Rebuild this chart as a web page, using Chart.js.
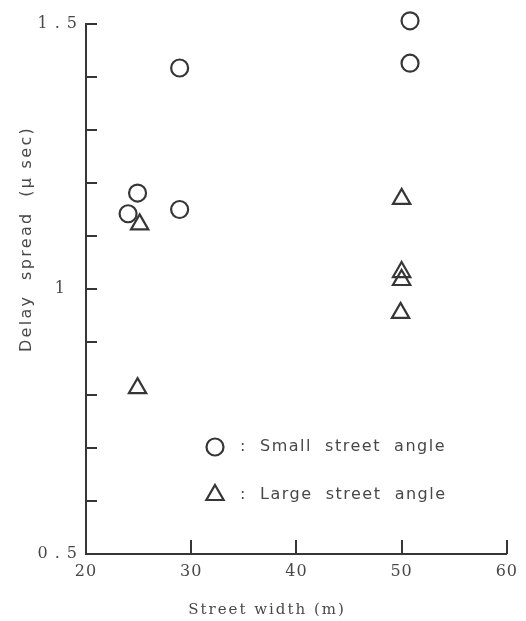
<!DOCTYPE html>
<html>
<head>
<meta charset="utf-8">
<script src="https://cdn.jsdelivr.net/npm/chart.js@4/dist/chart.umd.min.js"></script>
<style>
  html, body { margin: 0; padding: 0; background: #fff; }
  #wrap { width: 526px; height: 621px; }
</style>
</head>
<body>
<div id="wrap"><canvas id="c" width="526" height="621"></canvas></div>
<script>
// Delay spread versus street width, two street-angle groups
const smallAngleWidth = [24.0, 24.9, 28.9, 28.9, 50.8, 50.8];
const smallAngleDelay = [1.142, 1.181, 1.150, 1.417, 1.506, 1.426];
const largeAngleWidth = [25.1, 24.9, 50.0, 50.0, 50.0, 49.9];
const largeAngleDelay = [1.122, 0.813, 1.170, 1.032, 1.017, 0.955];

const xTickValues = [20, 30, 40, 50, 60];
const yTickLabels = { '0.5': '0 . 5', '1': '1  ', '1.5': '1 . 5' };
const seriesNames = ['Small street angle', 'Large street angle'];
const xTitle = 'Street width (m)';
const yTitle = 'Delay  spread  (μ sec)';

const INK = '#363636';
const TEXT = '#484848';
const SERIF = 'DejaVu Serif';
const SANS = 'DejaVu Sans';

function toPoints(xs, ys) { return xs.map((x, i) => ({ x: x, y: ys[i] })); }

// slightly open letter spacing for the tick labels
const spacingPlugin = {
  id: 'spacing',
  beforeLayout(chart) { chart.ctx.letterSpacing = '1px'; },
  beforeDraw(chart) { chart.ctx.letterSpacing = '1px'; }
};

// inward tick marks on the left and bottom axes
const inwardTicks = {
  id: 'inwardTicks',
  afterDraw(chart) {
    const { ctx, chartArea: a, scales: { x, y } } = chart;
    ctx.save();
    ctx.strokeStyle = INK;
    ctx.lineWidth = 2;
    ctx.beginPath();
    y.ticks.forEach(t => {
      const py = Math.round(y.getPixelForValue(t.value));
      ctx.moveTo(a.left, py); ctx.lineTo(a.left + 11, py);
    });
    x.ticks.forEach(t => {
      if (t.value === x.min) return;
      const px = Math.round(x.getPixelForValue(t.value));
      ctx.moveTo(px, a.bottom); ctx.lineTo(px, a.bottom - 14);
    });
    ctx.stroke();
    ctx.restore();
  }
};

// axis titles
const axisTitles = {
  id: 'axisTitles',
  afterDraw(chart) {
    const { ctx, chartArea: a } = chart;
    ctx.save();
    ctx.fillStyle = TEXT;
    ctx.textAlign = 'center';
    ctx.textBaseline = 'middle';
    ctx.letterSpacing = '2px';
    ctx.font = '15px "' + SERIF + '"';
    ctx.fillText(xTitle, a.left + 181, a.bottom + 56);
    ctx.translate(27, a.top + 215);
    ctx.rotate(-Math.PI / 2);
    ctx.letterSpacing = '2.3px';
    ctx.font = '16px "' + SANS + '"';
    ctx.fillText(yTitle, 0, 0);
    ctx.restore();
  }
};

// key drawn inside the plot area, lower middle
const keyPlugin = {
  id: 'key',
  afterDraw(chart) {
    const { ctx, chartArea: a } = chart;
    chart.data.datasets.forEach((ds, i) => {
      const cx = a.left + 129;
      const cy = a.top + 423 + i * 48;
      ctx.save();
      ctx.strokeStyle = ds.borderColor;
      ctx.fillStyle = 'rgba(0,0,0,0)';
      ctx.lineWidth = ds.borderWidth;
      Chart.helpers.drawPoint(ctx, {
        pointStyle: ds.pointStyle,
        radius: ds.pointRadius,
        borderWidth: ds.borderWidth
      }, cx, cy);
      ctx.letterSpacing = '1.5px';
      ctx.font = '16px "' + SANS + '"';
      ctx.fillStyle = TEXT;
      ctx.textBaseline = 'middle';
      ctx.textAlign = 'left';
      ctx.fillText(':', cx + 25, cy);
      ctx.fillText(ds.label.split(' ').join('  '), cx + 45, cy);
      ctx.restore();
    });
  }
};

new Chart(document.getElementById('c'), {
  type: 'scatter',
  data: {
    datasets: [
      {
        label: seriesNames[0],
        data: toPoints(smallAngleWidth, smallAngleDelay),
        pointStyle: 'circle',
        pointRadius: 8.5,
        borderWidth: 2.2,
        borderColor: INK,
        backgroundColor: 'rgba(0,0,0,0)',
        clip: false
      },
      {
        label: seriesNames[1],
        data: toPoints(largeAngleWidth, largeAngleDelay),
        pointStyle: 'triangle',
        pointRadius: 10,
        borderWidth: 2.2,
        borderColor: INK,
        backgroundColor: 'rgba(0,0,0,0)',
        clip: false
      }
    ]
  },
  options: {
    responsive: false,
    animation: false,
    layout: { padding: { left: 0, top: 24, right: 16, bottom: 0 } },
    plugins: { legend: { display: false }, tooltip: { enabled: false } },
    scales: {
      x: {
        type: 'linear',
        min: 20, max: 60,
        afterFit(s) { s.height = 67; },
        afterBuildTicks(s) { s.ticks = xTickValues.map(v => ({ value: v })); },
        grid: { display: false, drawTicks: false },
        border: { display: true, color: INK, width: 2 },
        ticks: {
          padding: 8,
          color: TEXT,
          font: { family: SERIF, size: 16 },
          autoSkip: false,
          maxRotation: 0
        }
      },
      y: {
        type: 'linear',
        min: 0.5, max: 1.5,
        afterFit(s) { s.width = 86; },
        grid: { display: false, drawTicks: false },
        border: { display: true, color: INK, width: 2 },
        ticks: {
          stepSize: 0.1,
          padding: 8,
          color: TEXT,
          autoSkip: false,
          font: { family: SERIF, size: 16 },
          callback(v) {
            const key = Object.keys(yTickLabels).find(k => Math.abs(Number(k) - v) < 1e-6);
            return key === undefined ? '' : yTickLabels[key];
          }
        }
      }
    }
  },
  plugins: [spacingPlugin, inwardTicks, axisTitles, keyPlugin]
});
</script>
</body>
</html>
